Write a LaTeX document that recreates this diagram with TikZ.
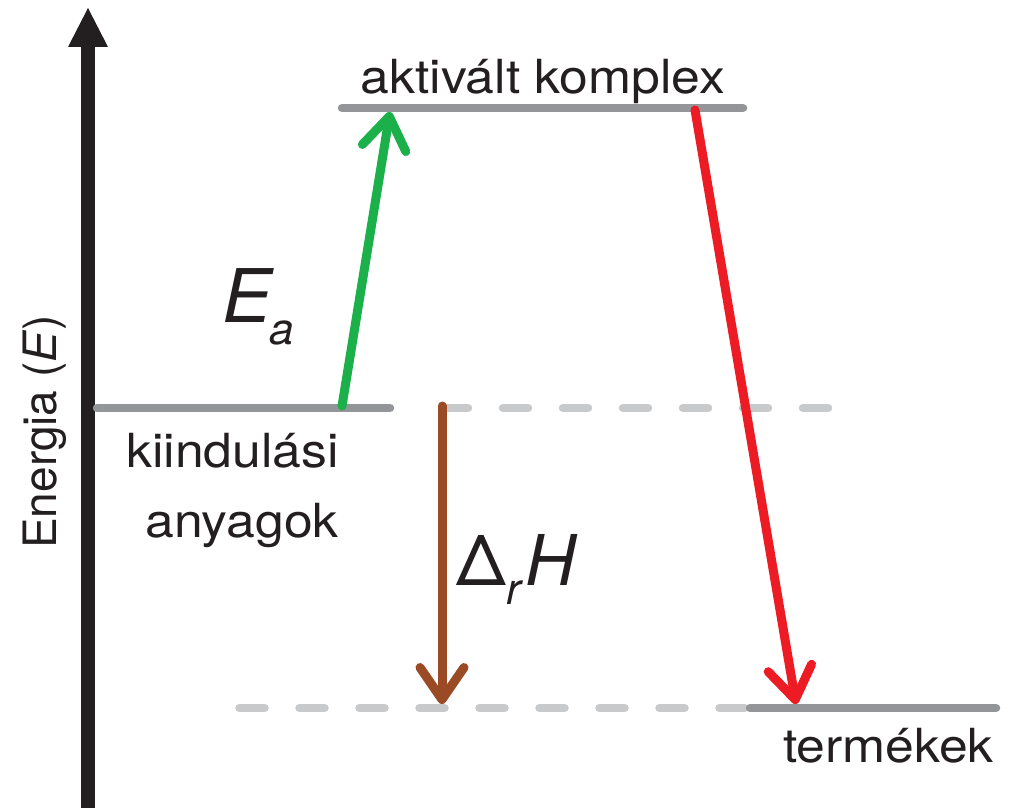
\documentclass[tikz,border=0pt]{standalone}
\usepackage{fontspec}
\setmainfont{TeX Gyre Heros}
\newfontfamily\widefont[FakeStretch=1.1]{TeX Gyre Heros}
\usetikzlibrary{arrows.meta}
\definecolor{lvl}{RGB}{147,149,152}
\definecolor{dsh}{RGB}{200,201,203}
\definecolor{grn}{RGB}{28,176,75}
\definecolor{rd}{RGB}{237,28,36}
\definecolor{brn}{RGB}{154,74,37}
\definecolor{ink}{RGB}{35,31,32}
\begin{document}
\begin{tikzpicture}[x=1pt,y=-1pt,
  level/.style={draw=lvl,line width=8.5pt,line cap=round},
  dashlevel/.style={draw=dsh,line width=8.5pt,line cap=round,dash pattern=on 25pt off 35pt},
  barb/.style={line width=9pt,line cap=round,-{Straight Barb[length=32pt,width=44pt,round]}},
  lbl/.style={inner sep=0pt,text=ink,font=\widefont\fontsize{47}{56}\selectfont},
  sym/.style={inner sep=0pt,text=ink}]
\useasboundingbox (0,0) rectangle (1012,808);
% axis
\coordinate (axB) at (88,808);
\coordinate (axT) at (88,8);
\draw[ink,line width=14pt,-{Triangle[length=39pt,width=40pt,line width=0pt]}] (axB) -- (axT);
% level coordinates
\coordinate (r1) at (97,408);  \coordinate (r2) at (390,408);
\coordinate (t1) at (342,108); \coordinate (t2) at (743,108);
\coordinate (p1) at (750,708); \coordinate (p2) at (996,708);
\coordinate (d1) at (443,408); \coordinate (d2) at (830,408);
\coordinate (b1) at (239.5,708); \coordinate (b2) at (745,708);
% dashed guides
\draw[dashlevel] (d1) -- (d2);
\draw[dashlevel] (b1) -- (b2);
% levels
\draw[level] (r1) -- (r2);
\draw[level] (t1) -- (t2);
\draw[level] (p1) -- (p2);
% arrows
\coordinate (ga) at (342,406); \coordinate (gb) at (390,112);
\coordinate (ra) at (695,110); \coordinate (rb) at (796,704);
\coordinate (ba) at (442,406); \coordinate (bb) at (442,704);
\draw[barb,grn] (ga) -- (gb);
\draw[barb,rd] (ra) -- (rb);
\draw[barb,brn] (ba) -- (bb);
% labels
\node[lbl,anchor=base] (top) at (543,93) {aktivált komplex};
\node[lbl,anchor=base east] (start1) at (339,467) {kiindulási};
\node[lbl,anchor=base east] (start2) at (339,537) {anyagok};
\node[lbl,anchor=base east] (prod) at (994,762) {termékek};
\node[sym,rotate=90,anchor=base west,font=\fontsize{46}{56}\selectfont] (en) at (56,549) {Energia (\textit{E})};
\node[sym,anchor=base west] (ea) at (222,322) {\fontsize{74}{74}\selectfont\itshape E\kern-2pt\raisebox{-22pt}{\fontsize{44}{44}\selectfont a}};
\node[sym,anchor=base west] (dh) at (456,585) {\fontsize{70}{70}\selectfont Δ\kern1pt\raisebox{-19pt}{\fontsize{44}{44}\selectfont\itshape r}\kern4pt\itshape H};
\end{tikzpicture}
\end{document}
